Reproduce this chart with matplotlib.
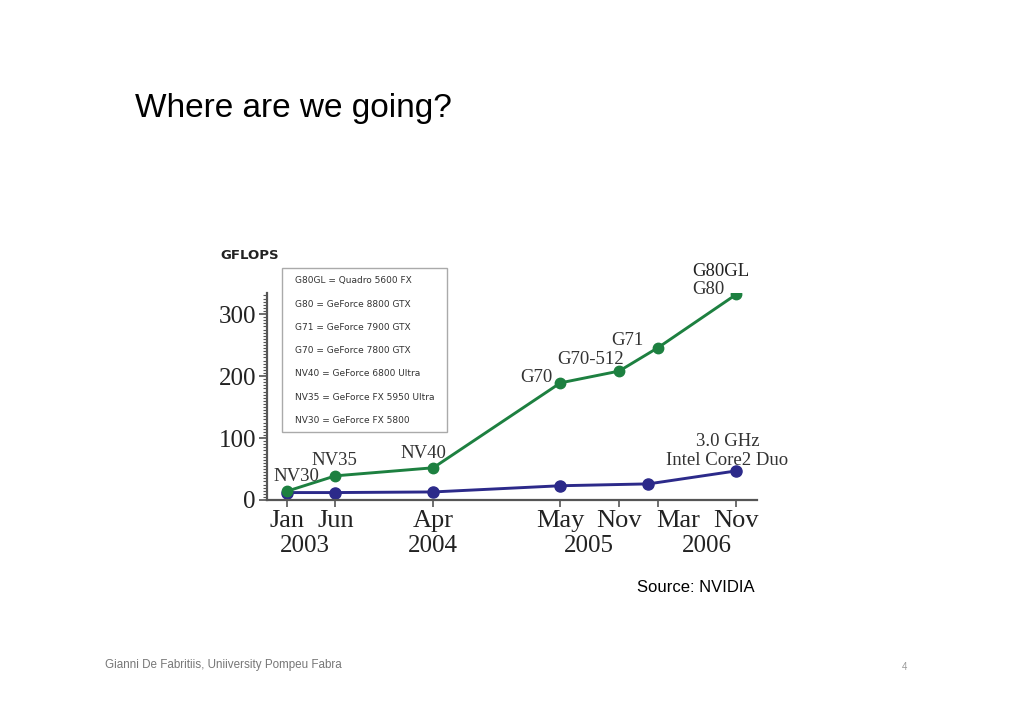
import matplotlib.pyplot as plt
import matplotlib.transforms as mtransforms
from matplotlib.patches import Rectangle

# Data (months counted from Jan 2003) ---------------------------------
gpu_months = [0, 5, 15, 28, 34, 38, 46]
gpu_gflops = [14, 39, 52, 189, 208, 246, 332]
gpu_names = ['NV30', 'NV35', 'NV40', 'G70', 'G70-512', 'G71', 'G80']

cpu_months = [0, 5, 15, 28, 37, 46]
cpu_gflops = [12, 12, 13, 23, 26, 47]

month_tick_pos = [0, 5, 15, 28, 34, 40, 46]  # Mar label sits right of its tick
month_tick_txt = ['Jan', 'Jun', 'Apr', 'May', 'Nov', 'Mar', 'Nov']
year_pos = [1.9, 15, 30.9, 43]
year_txt = ['2003', '2004', '2005', '2006']

legend_lines = ['G80GL = Quadro 5600 FX',
                'G80 = GeForce 8800 GTX',
                'G71 = GeForce 7900 GTX',
                'G70 = GeForce 7800 GTX',
                'NV40 = GeForce 6800 Ultra',
                'NV35 = GeForce FX 5950 Ultra',
                'NV30 = GeForce FX 5800']

green = '#1d8040'
indigo = '#2c2a8a'
serif = 'Liberation Serif'

fig = plt.figure(figsize=(10.24, 7.23), dpi=100)
W, H = 1024, 723

# slide texts
fig.text(135/W, 1-108/H, 'Where are we going?', fontsize=24,
         family='Liberation Sans', va='center', ha='left')
fig.text(637/W, 1-588/H, 'Source: NVIDIA', fontsize=12,
         family='Liberation Sans', va='center', ha='left')
fig.text(105/W, 1-665/H, 'Gianni De Fabritiis, Uniiversity Pompeu Fabra',
         fontsize=8.4, family='Liberation Sans', color='#777777', va='center')
fig.text(905/W, 1-667/H, '4', fontsize=7, family='Liberation Sans',
         color='#999999', va='center', ha='center')

# chart ---------------------------------------------------------------
ax = fig.add_axes([267/W, 1-500/H, (757-267)/W, (500-293)/H])
ax.plot(gpu_months, gpu_gflops, color=green, lw=2.1, marker='o', ms=7.5, zorder=3)
ax.plot(cpu_months, cpu_gflops, color=indigo, lw=2.1, marker='o', ms=8, zorder=2)

ax.set_xlim(-2.0, 48.1)
ax.set_ylim(0, 334)
for s in ['top', 'right']:
    ax.spines[s].set_visible(False)
for s in ['left', 'bottom']:
    ax.spines[s].set_color('#555555')
    ax.spines[s].set_linewidth(1.6)

ax.set_yticks([0, 100, 200, 300])
ax.set_yticks(range(0, 335, 5), minor=True)
ax.tick_params(axis='y', which='major', length=6, width=1.2, pad=2,
               labelsize=18, colors='#555555', labelcolor='#222222')
ax.tick_params(axis='y', which='minor', length=3, width=0.8, colors='#555555')
for lab in ax.get_yticklabels():
    lab.set_family(serif)

ax.xaxis.remove_overlapping_locs = False
ax.set_xticks(month_tick_pos)
ax.set_xticklabels(month_tick_txt, family=serif, fontsize=19, color='#222222')
ax.set_xticks(gpu_months, minor=True)
ax.tick_params(axis='x', which='major', length=0, pad=7)
ax.tick_params(axis='x', which='minor', length=5, width=1.2, colors='#555555')

trans = mtransforms.blended_transform_factory(ax.transData, ax.transAxes)
for xp, yt in zip(year_pos, year_txt):
    ax.text(xp, -0.222, yt, transform=trans, family=serif, fontsize=18,
            color='#222222', ha='center', va='center')

# point labels
offsets = [(10, 15), (-1, 15), (-10, 14), (-24, 5), (-29, 12), (-31, 7), (-28, 5)]
for xm, yv, name, off in zip(gpu_months, gpu_gflops, gpu_names, offsets):
    ax.annotate(name, (xm, yv), xytext=off, textcoords='offset pixels',
                family=serif, fontsize=13.5, color='#333333',
                ha='center', va='center')
ax.annotate('G80GL', (gpu_months[-1], gpu_gflops[-1]), xytext=(-16, 23),
            textcoords='offset pixels', family=serif, fontsize=13.5,
            color='#222222', ha='center', va='center', annotation_clip=False)
ax.annotate('3.0 GHz', (cpu_months[-1], cpu_gflops[-1]), xytext=(-9, 29),
            textcoords='offset pixels', family=serif, fontsize=13.5,
            color='#333333', ha='center', va='center')
ax.annotate('Intel Core2 Duo', (cpu_months[-1], cpu_gflops[-1]), xytext=(-9, 10),
            textcoords='offset pixels', family=serif, fontsize=13.5,
            color='#333333', ha='center', va='center', annotation_clip=False)

fig.text(220/W, 1-255/H, 'GFLOPS', fontsize=9.5, weight='bold',
         family='DejaVu Sans', color='#222222', va='center', ha='left')

# key box
fig.patches.append(Rectangle((282/W, 1-432/H), (447-282)/W, (432-268)/H,
                             transform=fig.transFigure, fill=False,
                             edgecolor='#aaaaaa', lw=1.0))
for i, line in enumerate(legend_lines):
    fig.text(295/W, 1-(281+23.2*i)/H, line, fontsize=6.5,
             family='DejaVu Sans', color='#333333', va='center', ha='left')

fig.savefig('out.png', dpi=100)
